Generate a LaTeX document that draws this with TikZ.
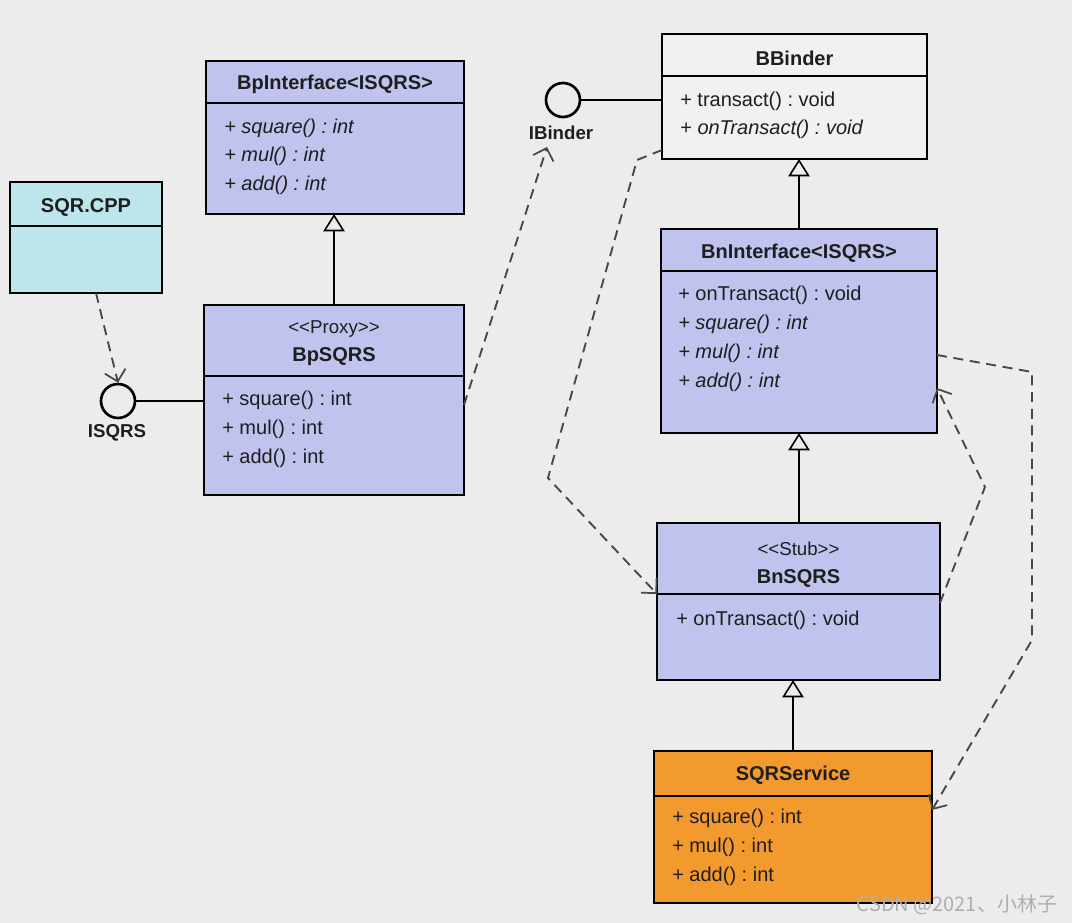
\documentclass[tikz,border=0pt]{standalone}
\usepackage{fontspec}
\setmainfont{Liberation Sans}
\newfontfamily\cjkfont{Noto Sans CJK SC}
\usetikzlibrary{arrows.meta}
\definecolor{bg}{RGB}{236,236,236}
\definecolor{blu}{RGB}{192,195,238}
\definecolor{cyn}{RGB}{188,230,236}
\definecolor{org}{RGB}{243,154,46}
\definecolor{wht}{RGB}{241,241,241}
\definecolor{txt}{RGB}{30,30,30}
\definecolor{wm}{RGB}{175,175,175}
\begin{document}
\frenchspacing
\begin{tikzpicture}[x=0.75pt,y=-0.75pt,
 box/.style={draw=black, line width=2.2pt, inner sep=0pt, outer sep=0pt},
 title/.style={font=\fontsize{15}{17}\selectfont\bfseries, inner sep=0pt, text=txt},
 member/.style={font=\fontsize{15}{17}\selectfont, anchor=west, inner sep=0pt, text=txt},
 imember/.style={member, font=\fontsize{15}{17}\selectfont\itshape},
 stereo/.style={font=\fontsize{14}{16}\selectfont, inner sep=0pt, text=txt},
 sep/.style={line width=1.3pt},
 gen/.style={line width=1.4pt, -{Triangle[open, length=13pt, width=16pt, line width=1.2pt]}},
 dep/.style={line width=1.4pt, draw=black!72, dash pattern=on 7.5pt off 5pt, -{Straight Barb[length=8pt, width=16pt, line width=1.3pt]}},
 lolli/.style={circle, draw=black, line width=2pt, minimum size=25.5pt, inner sep=0pt},
 lbl/.style={font=\fontsize{14}{16}\selectfont\bfseries, inner sep=0pt, text=txt}]
\fill[bg] (0,0) rectangle (1072,923);
\useasboundingbox (0,0) rectangle (1072,923);

% BpInterface
\node[box, fill=blu, minimum width=193.5pt, minimum height=114.75pt] (BpI) at (335,137.5) {};
\draw[sep] (BpI.west |- 0,103) -- (BpI.east |- 0,103);
\node[title] (BpIt) at (335,84) {BpInterface<ISQRS>};
\node[imember] (BpI1) at (224,128) {+ square() : int};
\node[imember] (BpI2) at (224,156) {+ mul() : int};
\node[imember] (BpI3) at (224,185) {+ add() : int};

% SQR.CPP
\node[box, fill=cyn, minimum width=114pt, minimum height=83.25pt] (sqr) at (86,237.5) {};
\draw[sep] (sqr.west |- 0,226) -- (sqr.east |- 0,226);
\node[title] (sqrt) at (86,207) {SQR.CPP};

% BpSQRS
\node[box, fill=blu, minimum width=195pt, minimum height=142.5pt] (BpS) at (334,400) {};
\draw[sep] (BpS.west |- 0,376) -- (BpS.east |- 0,376);
\node[stereo] (BpSs) at (334,329) {<{}<Proxy>{}>};
\node[title] (BpSt) at (334,357) {BpSQRS};
\node[member] (BpS1) at (222,400) {+ square() : int};
\node[member] (BpS2) at (222,429) {+ mul() : int};
\node[member] (BpS3) at (222,458) {+ add() : int};

% ISQRS lollipop
\node[lolli] (isqrs) at (118,401) {};
\node[lbl] (isqrsl) at (117,433) {ISQRS};

% BBinder
\node[box, fill=wht, minimum width=198.75pt, minimum height=93.75pt] (BB) at (794.5,96.5) {};
\draw[sep] (BB.west |- 0,76) -- (BB.east |- 0,76);
\node[title] (BBt) at (794.5,58) {BBinder};
\node[member] (BB1) at (680,101) {+ transact() : void};
\node[member] (BB2) at (680,129) {+ \textit{onTransact() : void}};

% IBinder lollipop
\node[lolli] (ib) at (563,100) {};
\node[lbl] (ibl) at (561,133) {IBinder};
\coordinate (ibarrow) at (547,147);

% BnInterface
\node[box, fill=blu, minimum width=207pt, minimum height=153pt] (BnI) at (799,331) {};
\draw[sep] (BnI.west |- 0,271) -- (BnI.east |- 0,271);
\node[title] (BnIt) at (799,253) {BnInterface<ISQRS>};
\node[member] (BnI1) at (678,295) {+ onTransact() : void};
\node[imember] (BnI2) at (678,324) {+ square() : int};
\node[imember] (BnI3) at (678,353) {+ mul() : int};
\node[imember] (BnI4) at (678,382) {+ add() : int};

% BnSQRS
\node[box, fill=blu, minimum width=212.25pt, minimum height=117.75pt] (BnS) at (798.5,601.5) {};
\draw[sep] (BnS.west |- 0,594) -- (BnS.east |- 0,594);
\node[stereo] (BnSs) at (798.5,549) {<{}<Stub>{}>};
\node[title] (BnSt) at (798.5,578) {BnSQRS};
\node[member] (BnS1) at (676,620) {+ onTransact() : void};

% SQRService
\node[box, fill=org, minimum width=208.5pt, minimum height=114pt] (SQ) at (793,827) {};
\draw[sep] (SQ.west |- 0,796) -- (SQ.east |- 0,796);
\node[title] (SQt) at (793,775) {SQRService};
\node[member] (SQ1) at (672,818) {+ square() : int};
\node[member] (SQ2) at (672,847) {+ mul() : int};
\node[member] (SQ3) at (672,876) {+ add() : int};

% generalizations
\draw[gen] (BpS.north) -- (BpS.north |- BpI.south);
\draw[gen] (BnI.north) -- (BnI.north |- BB.south);
\draw[gen] (BnS.north -| BnI.south) -- (BnI.south);
\draw[gen] (SQ.north) -- (SQ.north |- BnS.south);

% lollipop links
\draw[line width=1.5pt] (isqrs.east) -- (isqrs.east -| BpS.west);
\draw[line width=1.5pt] (ib.east) -- (ib.east -| BB.west);

% dependencies
\draw[dep] ([xshift=7.5pt]sqr.south) -- (isqrs.north);
\draw[dep] ([yshift=-3.75pt]BpS.east) -- (ibarrow);
\draw[dep] ([yshift=6.75pt]BB.south west) -- (637,160) -- (548,478) -- ([yshift=5.6pt]BnS.west);
\draw[dep] ([yshift=-1.1pt]BnS.east) -- (985,487) -- ([yshift=-42.75pt]BnI.east);
\draw[dep] ([yshift=-18pt]BnI.east) -- (1032,372) -- (1032,640) -- ([yshift=12.75pt]SQ.east);

% watermark
\node[font=\cjkfont\fontsize{15}{17}\selectfont, text=wm, inner sep=0pt] (wmk) at (957,905) {CSDN @2021、小林子};
\end{tikzpicture}
\end{document}
